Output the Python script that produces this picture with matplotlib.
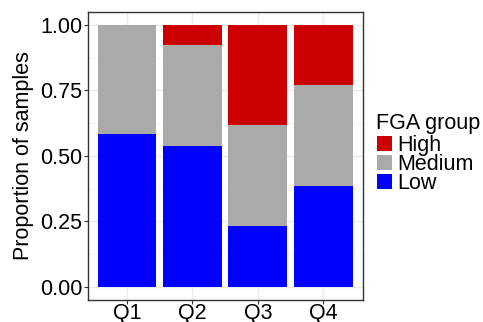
import matplotlib
matplotlib.use('Agg')
import matplotlib.pyplot as plt
from matplotlib.patches import Rectangle
import numpy as np

plt.rcParams['font.family'] = ['Liberation Sans', 'DejaVu Sans']

quarters = ['Q1', 'Q2', 'Q3', 'Q4']
low = [0.583, 0.538, 0.231, 0.385]
medium = [0.417, 0.385, 0.385, 0.385]
high = [0.0, 0.077, 0.385, 0.231]

groups = ['High', 'Medium', 'Low']
colors = {'Low': '#0000FF', 'Medium': '#AAAAAA', 'High': '#CC0000'}

W, H = 483, 322
fig = plt.figure(figsize=(W / 100, H / 100), dpi=100)
ax = fig.add_axes([87.7 / W, 1 - 300 / H, 275 / W, 288.3 / H])

x = np.arange(1, len(quarters) + 1)
low_a = np.array(low)
med_a = np.array(medium)
high_a = np.array(high)
ax.bar(x, low_a, width=0.9, color=colors['Low'], zorder=3)
ax.bar(x, med_a, width=0.9, bottom=low_a, color=colors['Medium'], zorder=3)
ax.bar(x, high_a, width=0.9, bottom=low_a + med_a, color=colors['High'], zorder=3)

ax.set_xlim(0.4, 4.6)
ax.set_ylim(-0.05, 1.05)
ax.set_xticks(x)
ax.set_xticklabels(quarters)
ax.set_yticks([0, 0.25, 0.5, 0.75, 1.0])
ax.set_yticklabels(['0.00', '0.25', '0.50', '0.75', '1.00'])
ax.set_yticks([0.125, 0.375, 0.625, 0.875], minor=True)

ax.grid(True, which='major', color='#EBEBEB', linewidth=1.0, zorder=0)
ax.grid(True, which='minor', axis='y', color='#F2F2F2', linewidth=0.6, zorder=0)
ax.tick_params(which='major', length=3, width=0.8, color='#333333',
               labelsize=15.5, labelcolor='black', pad=1)
ax.tick_params(axis='x', pad=-1)
ax.tick_params(which='minor', length=0)
for s in ax.spines.values():
    s.set_color('#333333')
    s.set_linewidth(1.0)

ax.set_ylabel('Proportion of samples', fontsize=15.5, labelpad=4)

# legend drawn by hand to get ggplot's tight key spacing
fig.text(376 / W, 1 - 129 / H, 'FGA group', fontsize=15.5, va='baseline', ha='left')
key_tops = [136, 155, 174]
for g, top in zip(groups, key_tops):
    fig.add_artist(Rectangle((377 / W, 1 - (top + 15) / H), 15 / W, 15 / H,
                             transform=fig.transFigure, facecolor=colors[g],
                             edgecolor='none'))
    fig.text(397.5 / W, 1 - (top + 15) / H, g, fontsize=15.5,
             va='baseline', ha='left')

fig.savefig('out.png', dpi=100)
